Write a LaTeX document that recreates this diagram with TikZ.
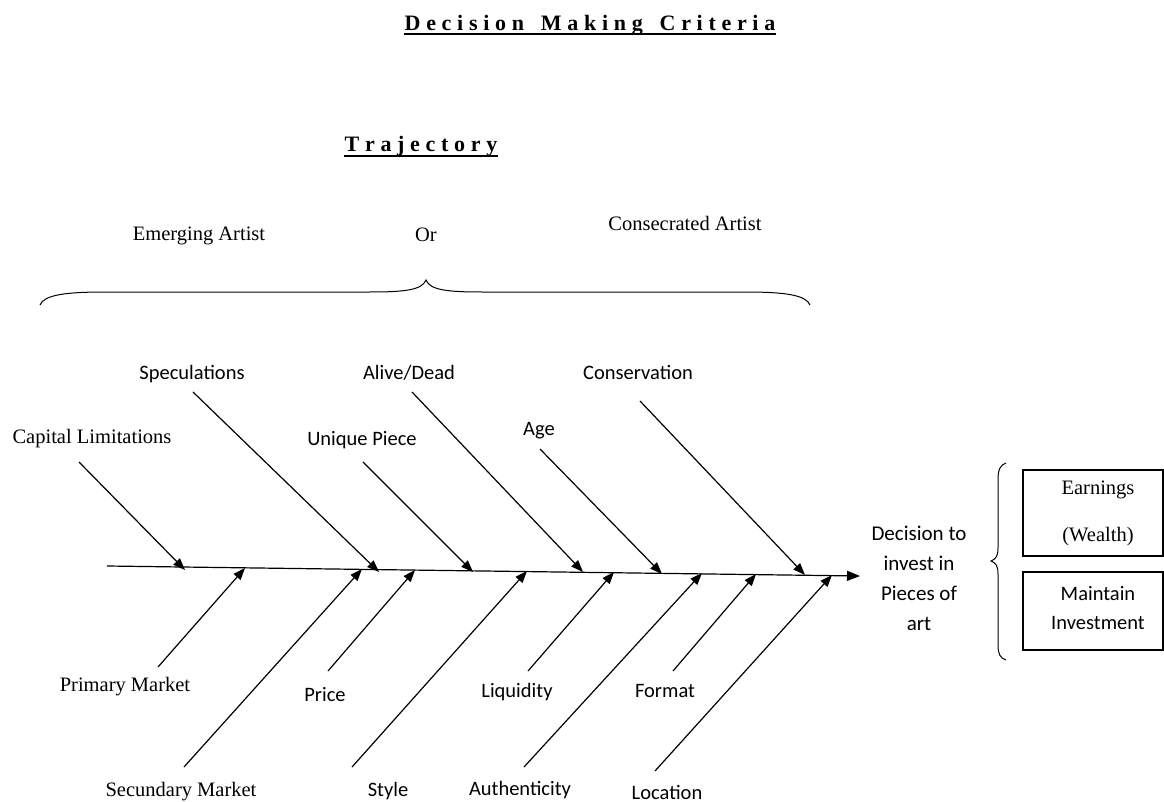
\documentclass[tikz,border=0pt]{standalone}
\usepackage{fontspec}
\setmainfont{Liberation Serif}
\newfontfamily\calfont{Carlito}
\usetikzlibrary{arrows.meta}
\makeatletter
\newcommand\lsp[1]{\def\lsp@sep{}\@tfor\lsp@c:=#1\do{\lsp@sep\lsp@c\def\lsp@sep{\kern5.7pt}}}
\makeatother
\tikzset{
  serif/.style={font=\fontsize{20.5}{24}\selectfont, inner sep=0pt, anchor=base},
  sans/.style={font=\calfont\fontsize{20.5}{24}\selectfont, inner sep=0pt, anchor=base},
  heading/.style={font=\bfseries\fontsize{22}{26}\selectfont, inner sep=0pt, anchor=base},
  bone/.style={line width=1.2pt, -{Triangle[length=12pt,width=9pt]}},
  spineline/.style={line width=1.2pt, -{Triangle[length=13pt,width=10pt]}},
  boxline/.style={line width=1.2pt},
}
\begin{document}
\begin{tikzpicture}[x=1pt,y=-1pt]
\useasboundingbox (0,0) rectangle (1164,802);
\fill[white] (0,0) rectangle (1164,802);

% headings
\node[heading] (title) at (590,31) {\lsp{Decision\ Making\ Criteria}};
\draw[line width=2.5pt] ([yshift=-3pt]title.base west) -- ([yshift=-3pt]title.base east);
\node[heading] (traj) at (421,152) {\lsp{Trajectory}};
\draw[line width=2pt] ([yshift=-4pt]traj.base west) -- ([yshift=-4pt]traj.base east);

\node[serif] (emerg) at (199,241) {Emerging Artist};
\node[serif] (or) at (426,242) {Or};
\node[serif] (consec) at (685,231) {Consecrated Artist};

% horizontal brace
\draw[line width=1pt] (40,305) .. controls (44,295) and (65,292) .. (105,292) -- (370,292)
  .. controls (405,292) and (422,290) .. (426,280)
  .. controls (430,290) and (447,292) .. (482,292) -- (745,292)
  .. controls (785,292) and (806,295) .. (810,305);

% spine
\coordinate (s0) at (107,566);
\coordinate (s1) at (860,576);
\draw[spineline] (s0) -- (s1);

% upper causes
\node[serif] (cap) at (92,443) {Capital Limitations};
\node[sans] (spec) at (192,379) {Speculations};
\node[sans] (alive) at (409,379) {Alive/Dead};
\node[sans] (cons) at (638,379) {Conservation};
\node[sans] (uniq) at (362,445) {Unique Piece};
\node[sans] (age) at (539,435) {Age};

\coordinate (capA) at (79,462);   \coordinate (capT) at (185,570);
\coordinate (specA) at (193,392); \coordinate (specT) at (379,572);
\coordinate (uniqA) at (363,462); \coordinate (uniqT) at (473,572);
\coordinate (aliveA) at (412,392); \coordinate (aliveT) at (583,572);
\coordinate (ageA) at (540,449);  \coordinate (ageT) at (662,574);
\coordinate (consA) at (640,401); \coordinate (consT) at (805,575);
\draw[bone] (capA) -- (capT);
\draw[bone] (specA) -- (specT);
\draw[bone] (uniqA) -- (uniqT);
\draw[bone] (aliveA) -- (aliveT);
\draw[bone] (ageA) -- (ageT);
\draw[bone] (consA) -- (consT);

% lower causes
\node[serif] (prim) at (125,691) {Primary Market};
\node[sans] (price) at (325,701) {Price};
\node[sans] (liq) at (517,697) {Liquidity};
\node[sans] (form) at (665,697) {Format};
\node[serif] (sec) at (181,796) {Secundary Market};
\node[sans] (style) at (388,796) {Style};
\node[sans] (auth) at (520,795) {Authenticity};
\node[sans] (loc) at (667,799) {Location};

\coordinate (primA) at (158,667);  \coordinate (primT) at (245,568);
\coordinate (secA) at (184,767);   \coordinate (secT) at (362,569);
\coordinate (priceA) at (328,671); \coordinate (priceT) at (415,570);
\coordinate (styleA) at (352,767); \coordinate (styleT) at (527,571);
\coordinate (liqA) at (528,671);   \coordinate (liqT) at (614,572);
\coordinate (authA) at (524,767);  \coordinate (authT) at (702,573);
\coordinate (formA) at (673,671);  \coordinate (formT) at (756,574);
\coordinate (locA) at (655,771);   \coordinate (locT) at (832,575);
\draw[bone] (primA) -- (primT);
\draw[bone] (secA) -- (secT);
\draw[bone] (priceA) -- (priceT);
\draw[bone] (styleA) -- (styleT);
\draw[bone] (liqA) -- (liqT);
\draw[bone] (authA) -- (authT);
\draw[bone] (formA) -- (formT);
\draw[bone] (locA) -- (locT);

% effect
\node[font=\calfont\fontsize{21}{30}\selectfont, align=center, inner sep=0pt] (effect) at (919,578)
  {Decision to\\invest in\\Pieces of\\art};

% vertical brace
\draw[line width=1pt] (1006,463) .. controls (1000,465) and (998,470) .. (998,480) -- (998,548)
  .. controls (998,556) and (996,559) .. (991,561)
  .. controls (996,563) and (998,566) .. (998,574) -- (998,645)
  .. controls (998,654) and (1000,658) .. (1006,660);

% boxes
\draw[boxline] (1023,470) rectangle (1163,556);
\draw[boxline] (1023,572) rectangle (1163,650);
\node[serif, anchor=center] (earn) at (1098,490) {Earnings};
\node[serif, anchor=center] (wealth) at (1098,537) {(Wealth)};
\node[sans, anchor=center] (maint) at (1098,594) {Maintain};
\node[sans, anchor=center] (invest) at (1098,623) {Investment};
\end{tikzpicture}
\end{document}
